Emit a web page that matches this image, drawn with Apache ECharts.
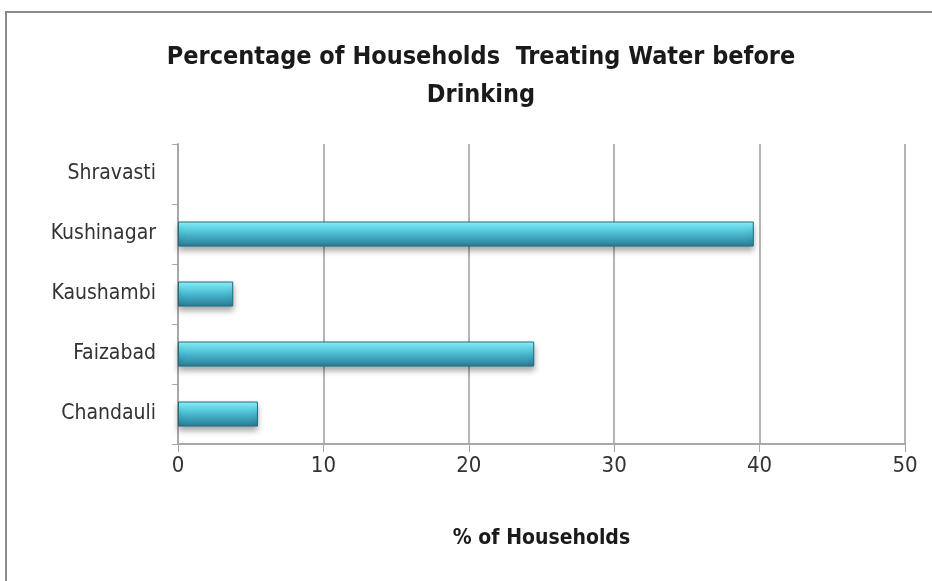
<!DOCTYPE html>
<html>
<head>
<meta charset="utf-8">
<script src="https://cdn.jsdelivr.net/npm/echarts@6/dist/echarts.min.js"></script>
<style>
  html, body { margin: 0; padding: 0; background: #fff; }
  #chart { width: 932px; height: 581px; }
</style>
</head>
<body>
<div id="chart"></div>
<script>
// districts, bottom to top as drawn
const districts = ['Chandauli', 'Faizabad', 'Kaushambi', 'Kushinagar', 'Shravasti'];
const pctTreating = [5.5, 24.5, 3.8, 39.6, 0];
const xTicks = [0, 10, 20, 30, 40, 50];

const fontFam = '"Liberation Sans Narrow", "DejaVu Sans Condensed", "Open Sans", sans-serif';

let chart = echarts.init(document.getElementById('chart'));

const barColor = new echarts.graphic.LinearGradient(0, 0, 0, 1, [
  {offset: 0, color: '#8ff8ff'},
  {offset: 0.2, color: '#70e4f4'},
  {offset: 0.55, color: '#45b2cb'},
  {offset: 1, color: '#2b7b93'}
]);

// zero values get no outline or shadow so nothing is drawn
let barData = pctTreating.map((v) => {
  if (v === 0) {
    return {value: v, itemStyle: {borderWidth: 0, shadowBlur: 0, shadowOffsetY: 0, opacity: 0}};
  }
  return v;
});

let options = {
  backgroundColor: '#fff',
  animation: false,
  graphic: [{
    type: 'rect',
    shape: {x: 6, y: 12, width: 940, height: 600},
    style: {fill: 'none', stroke: '#8a8a8a', lineWidth: 2},
    silent: true
  }],
  title: {
    text: 'Percentage of Households  Treating Water before\nDrinking',
    left: 476,
    textAlign: 'center',
    top: 33,
    textStyle: {
      fontFamily: fontFam,
      fontSize: 25,
      fontWeight: 'bold',
      color: '#1a1a1a',
      lineHeight: 38
    }
  },
  grid: {left: 178, right: 27, top: 144, bottom: 137, containLabel: false},
  xAxis: {
    type: 'value',
    min: 0,
    max: 50,
    interval: 10,
    name: '% of Households',
    nameLocation: 'middle',
    nameGap: 84,
    nameTextStyle: {fontFamily: fontFam, fontSize: 21, fontWeight: 'bold', color: '#1a1a1a'},
    axisLine: {show: true, lineStyle: {color: '#a8a8a8', width: 2}},
    axisTick: {show: true, length: 8, lineStyle: {color: '#a8a8a8', width: 1}},
    axisLabel: {
      margin: 11,
      fontFamily: fontFam,
      fontSize: 22,
      color: '#333',
      formatter: function (v) { return xTicks.indexOf(v) >= 0 ? String(v) : ''; }
    },
    splitLine: {show: true, lineStyle: {color: '#b4b4b4', width: 2}}
  },
  yAxis: {
    type: 'category',
    data: districts,
    axisLine: {show: true, lineStyle: {color: '#a8a8a8', width: 2}},
    axisTick: {show: true, length: 6, lineStyle: {color: '#a8a8a8', width: 1}},
    axisLabel: {margin: 22, fontFamily: fontFam, fontSize: 21, color: '#333'},
    splitLine: {show: false}
  },
  series: [{
    type: 'bar',
    data: barData,
    barWidth: 25,
    itemStyle: {
      color: barColor,
      borderColor: '#206a7e',
      borderWidth: 1,
      shadowColor: 'rgba(0,0,0,0.35)',
      shadowBlur: 6,
      shadowOffsetY: 4
    }
  }]
};

chart.setOption(options);
</script>
</body>
</html>
